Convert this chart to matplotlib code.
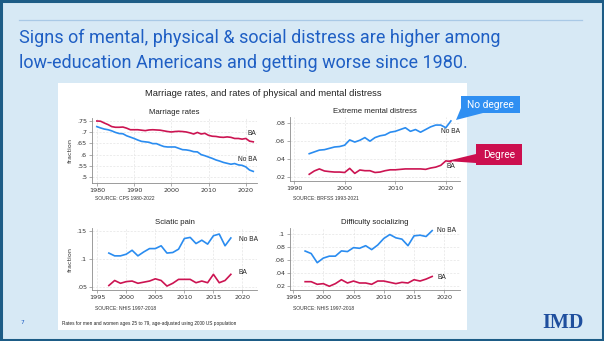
import matplotlib
matplotlib.use("Agg")
import matplotlib.pyplot as plt
from matplotlib.patches import Rectangle, Polygon
from matplotlib.ticker import FuncFormatter

# ---------------- data ----------------
marriage_years = list(range(1980, 2023))
marriage_ba = [0.750, 0.749, 0.741, 0.734, 0.725, 0.722, 0.722, 0.723, 0.718, 0.711,
               0.711, 0.711, 0.709, 0.707, 0.710, 0.711, 0.710, 0.709, 0.706, 0.703,
               0.701, 0.703, 0.704, 0.703, 0.701, 0.697, 0.692, 0.699, 0.692, 0.695,
               0.686, 0.682, 0.681, 0.678, 0.677, 0.679, 0.677, 0.672, 0.672, 0.669,
               0.672, 0.660, 0.657]
marriage_noba = [0.725, 0.719, 0.714, 0.711, 0.706, 0.699, 0.694, 0.693, 0.684, 0.678,
                 0.672, 0.665, 0.659, 0.657, 0.655, 0.649, 0.649, 0.642, 0.636, 0.634,
                 0.634, 0.634, 0.628, 0.622, 0.621, 0.618, 0.613, 0.612, 0.600, 0.595,
                 0.589, 0.583, 0.576, 0.571, 0.565, 0.561, 0.557, 0.560, 0.554, 0.552,
                 0.545, 0.531, 0.525]

mental_years = list(range(1993, 2022))
mental_noba = [0.046, 0.048, 0.050, 0.0505, 0.052, 0.0535, 0.054, 0.0555, 0.0614, 0.059,
               0.061, 0.064, 0.060, 0.064, 0.066, 0.067, 0.070, 0.071, 0.073, 0.075,
               0.071, 0.073, 0.070, 0.073, 0.076, 0.078, 0.078, 0.075, 0.0826]
mental_ba = [0.023, 0.0267, 0.029, 0.0267, 0.026, 0.0255, 0.0255, 0.025, 0.0296, 0.024,
             0.0278, 0.027, 0.027, 0.025, 0.0255, 0.027, 0.028, 0.028, 0.0285, 0.029,
             0.029, 0.029, 0.029, 0.0285, 0.030, 0.031, 0.033, 0.038, 0.037]

nhis_years = list(range(1997, 2019))
sciatic_noba = [0.110, 0.105, 0.105, 0.108, 0.115, 0.105, 0.112, 0.118, 0.118, 0.123,
                0.110, 0.111, 0.117, 0.136, 0.138, 0.127, 0.133, 0.126, 0.141, 0.144,
                0.123, 0.137]
sciatic_ba = [0.052, 0.061, 0.056, 0.059, 0.060, 0.056, 0.058, 0.060, 0.064, 0.061,
              0.051, 0.056, 0.063, 0.063, 0.063, 0.057, 0.060, 0.057, 0.072, 0.057,
              0.061, 0.072]

social_noba = [0.0738, 0.070, 0.056, 0.063, 0.066, 0.066, 0.074, 0.073, 0.079, 0.078,
               0.082, 0.076, 0.083, 0.093, 0.099, 0.094, 0.092, 0.082, 0.097, 0.098,
               0.096, 0.105]
social_ba = [0.027, 0.027, 0.023, 0.024, 0.020, 0.024, 0.030, 0.025, 0.028, 0.025,
             0.025, 0.023, 0.028, 0.028, 0.026, 0.024, 0.026, 0.025, 0.030, 0.028,
             0.031, 0.035]

# ---------------- style ----------------
W, H = 604, 341
BG = "#d7e9f5"
BORDER = "#1d5c86"
TITLE_BLUE = "#1f5fc4"
BLUE = "#2a8cf0"
RED = "#cc1452"
TXT = "#333333"

fig = plt.figure(figsize=(W / 100, H / 100), dpi=100)
fig.patch.set_facecolor(BG)


def fx(px):
    return px / W


def fy(py):
    return 1 - py / H


def fpts(pts):
    return [(fx(x), fy(y)) for x, y in pts]


# white chart panel behind the axes, slide rule and frame
fig.patches.append(Rectangle((fx(58), fy(330)), fx(467) - fx(58), fy(83) - fy(330),
                             transform=fig.transFigure, facecolor="white",
                             edgecolor="none", zorder=-5))
fig.add_artist(plt.Line2D([fx(19), fx(582)], [fy(20), fy(20)], color="#a9c9e6", lw=0.9))
fig.patches.append(Rectangle((0.0015, 0.003), 0.997, 0.994, transform=fig.transFigure,
                             facecolor="none", edgecolor=BORDER, lw=2.2, zorder=10))

fig.text(fx(19), fy(38), "Signs of mental, physical & social distress are higher among",
         color=TITLE_BLUE, fontsize=12.95, family="Roboto", va="center", ha="left")
fig.text(fx(19), fy(63), "low-education Americans and getting worse since 1980.",
         color=TITLE_BLUE, fontsize=12.95, family="Roboto", va="center", ha="left")

fig.text(fx(263), fy(93), "Marriage rates, and rates of physical and mental distress",
         color="#222222", fontsize=6.75, ha="center", va="center", family="Liberation Sans")

fig.text(fx(22), fy(323), "7", color=TITLE_BLUE, fontsize=4.2, ha="center", va="center")
fig.text(fx(62), fy(323), "Rates for men and women ages 25 to 79, age-adjusted using 2000 US population",
         color="#222222", fontsize=3.4, ha="left", va="center", family="Liberation Sans")
fig.text(fx(563), fy(323), "IMD", color="#1f4f9e", fontsize=14.5, ha="center", va="center",
         family="Liberation Serif", weight="bold")


def fmt(v, _):
    s = ("%.2f" % v).rstrip("0").rstrip(".")
    return s[1:] if s.startswith("0.") else s


def panel(box, title, xlim, ylim, xticks, yticks, source, source_y, ylabel=False):
    x0, y0, x1, y1 = box
    ax = fig.add_axes([fx(x0), fy(y1), fx(x1) - fx(x0), fy(y0) - fy(y1)])
    ax.set_facecolor("white")
    ax.set_xlim(*xlim)
    ax.set_ylim(*ylim)
    ax.set_xticks(xticks)
    ax.set_yticks(yticks)
    ax.yaxis.set_major_formatter(FuncFormatter(fmt))
    for s in ("top", "right"):
        ax.spines[s].set_visible(False)
    for s in ("left", "bottom"):
        ax.spines[s].set_color("#8c8c8c")
        ax.spines[s].set_linewidth(0.6)
    ax.tick_params(axis="both", length=2.2, width=0.5, color="#8c8c8c",
                   labelsize=4.6, labelcolor=TXT, pad=1.5)
    ax.grid(True, color="#e4e4e4", lw=0.5, ls=(0, (3, 2)))
    ax.set_axisbelow(True)
    ax.set_title(title, fontsize=5.6, color="#222222", pad=3, family="Liberation Sans")
    if ylabel:
        ax.set_ylabel("fraction", fontsize=4.6, color=TXT, labelpad=3)
    fig.text(fx(x0 + 3), fy(source_y), source, fontsize=3.6, color=TXT,
             ha="left", va="center", family="Liberation Sans")
    return ax


def label(ax, x, y, s):
    ax.text(x, y, s, fontsize=4.8, color="#222222", ha="left", va="center",
            family="Liberation Sans")


def callout(text, box, tail, color):
    x0, y0, x1, y1 = box
    fig.patches.append(Rectangle((fx(x0), fy(y1)), fx(x1) - fx(x0), fy(y0) - fy(y1),
                                 transform=fig.transFigure, facecolor=color,
                                 edgecolor="none", zorder=6))
    fig.patches.append(Polygon(fpts(tail), closed=True, transform=fig.transFigure,
                               facecolor=color, edgecolor="none", zorder=6))
    fig.text(fx((x0 + x1) / 2), fy((y0 + y1) / 2 + 0.5), text, color="white",
             fontsize=7.3, family="Roboto", ha="center", va="center", zorder=7)


# Marriage rates
ax1 = panel((92, 118, 257, 183), "Marriage rates", (1978.7, 2023), (0.4732, 0.7634),
            [1980, 1990, 2000, 2010, 2020], [0.5, 0.55, 0.6, 0.65, 0.7, 0.75],
            "SOURCE: CPS 1980-2022", 198, ylabel=True)
ax1.plot(marriage_years, marriage_ba, color=RED, lw=1.2)
ax1.plot(marriage_years, marriage_noba, color=BLUE, lw=1.2)
label(ax1, 2020.5, 0.696, "BA")
label(ax1, 2018.0, 0.576, "No BA")

# Extreme mental distress
ax2 = panel((290, 117, 460, 181), "Extreme mental distress", (1989.2, 2022.8), (0.0155, 0.087),
            [1990, 2000, 2010, 2020], [0.02, 0.04, 0.06, 0.08],
            "SOURCE: BRFSS 1993-2021", 198)
ax2.plot(mental_years, mental_ba, color=RED, lw=1.2)
ax2.plot(mental_years, mental_noba, color=BLUE, lw=1.2)
label(ax2, 2019.0, 0.0703, "No BA")
label(ax2, 2020.2, 0.0312, "BA")

callout("No degree", (461, 96, 520, 113), [(461, 108), (483, 113), (456, 120)], "#2f8ff2")
callout("Degree", (476, 144, 522, 165), [(476, 154), (476, 163), (447, 161)], "#cc0f4f")

# Sciatic pain
ax3 = panel((92, 228, 257, 290), "Sciatic pain", (1994.1, 2022.5), (0.044, 0.1548),
            [1995, 2000, 2005, 2010, 2015, 2020], [0.05, 0.1, 0.15],
            "SOURCE: NHIS 1997-2018", 308, ylabel=True)
ax3.plot(nhis_years, sciatic_noba, color=BLUE, lw=1.2)
ax3.plot(nhis_years, sciatic_ba, color=RED, lw=1.2)
label(ax3, 2019.4, 0.135, "No BA")
label(ax3, 2019.3, 0.0745, "BA")

# Difficulty socializing
ax4 = panel((290, 228, 460, 290), "Difficulty socializing", (1994.5, 2022.6), (0.0143, 0.109),
            [1995, 2000, 2005, 2010, 2015, 2020], [0.02, 0.04, 0.06, 0.08, 0.1],
            "SOURCE: NHIS 1997-2018", 308)
ax4.plot(nhis_years, social_noba, color=BLUE, lw=1.2)
ax4.plot(nhis_years, social_ba, color=RED, lw=1.2)
label(ax4, 2018.8, 0.1046, "No BA")
label(ax4, 2018.8, 0.0327, "BA")

fig.savefig("out.png", dpi=100, facecolor=fig.get_facecolor())
